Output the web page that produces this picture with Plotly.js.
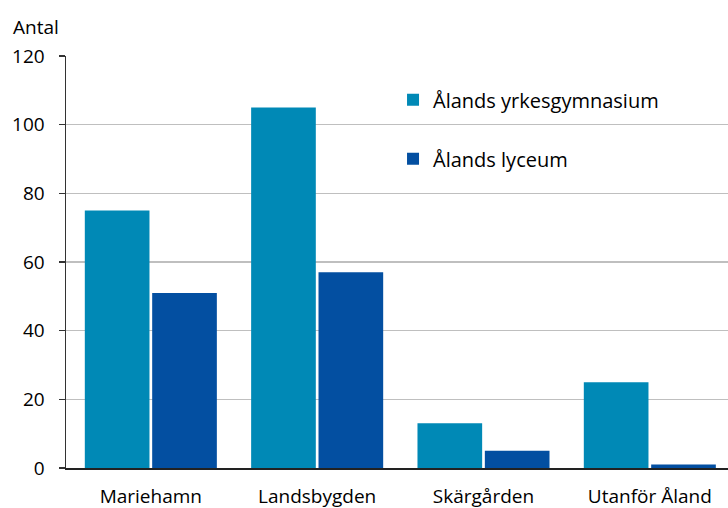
<!DOCTYPE html>
<html>
<head>
<meta charset="utf-8">
<script src="https://cdn.plot.ly/plotly-3.0.1.min.js"></script>
<style>html,body{margin:0;padding:0;background:#fff;}#chart{width:728px;height:508px;}</style>
</head>
<body>
<div id="chart"></div>
<script>
const categories = ["Mariehamn", "Landsbygden", "Skärgården", "Utanför Åland"];
const seriesNames = ["Ålands yrkesgymnasium", "Ålands lyceum"];
const yrkesgymnasium = [75, 105, 13, 25];
const lyceum = [51, 57, 5, 1];
const yTicks = [0, 20, 40, 60, 80, 100, 120];

const FONT = "Open Sans, Noto Sans, sans-serif";

const traces = [
  {type: "bar", name: seriesNames[0], x: categories, y: yrkesgymnasium,
   marker: {color: "#0089B6", line: {width: 0}}, legendgroup: "a"},
  {type: "bar", name: seriesNames[1], x: categories, y: lyceum,
   marker: {color: "#034FA1", line: {width: 0}}, legendgroup: "b"}
];

const layout = {
  width: 728, height: 508,
  margin: {l: 66, r: 0, t: 56, b: 40},
  paper_bgcolor: "#fff", plot_bgcolor: "#fff",
  font: {family: FONT, size: 19, color: "#000"},
  barmode: "group", bargap: 0.19, bargroupgap: 0.04,
  showlegend: true,
  legend: {x: 0.494, y: 0.941, xanchor: "left", yanchor: "top",
           font: {family: FONT, size: 20, color: "#000"},
           tracegroupgap: 30, traceorder: "grouped", bgcolor: "rgba(0,0,0,0)"},
  xaxis: {type: "category", range: [-0.51, 3.47], showgrid: false,
          showline: true, linecolor: "#222", linewidth: 2, ticks: "",
          tickfont: {family: FONT, size: 19}, ticklabelstandoff: 10, fixedrange: true},
  yaxis: {range: [0, 120], tickvals: yTicks, ticktext: yTicks.map(String),
          showgrid: true, gridcolor: "#BFBFBF", gridwidth: 1.5,
          zeroline: false, showline: true, linecolor: "#333", linewidth: 1.5,
          ticks: "outside", ticklen: 6, tickcolor: "#333", tickwidth: 1.5,
          tickfont: {family: FONT, size: 19}, ticklabelstandoff: 10},
  annotations: [{text: "Antal", xref: "paper", yref: "paper", x: -0.083, y: 1.035,
                 xanchor: "left", yanchor: "bottom", showarrow: false,
                 font: {family: FONT, size: 19, color: "#000"}}]
};

Plotly.newPlot("chart", traces, layout, {displayModeBar: false, staticPlot: true});
</script>
</body>
</html>
